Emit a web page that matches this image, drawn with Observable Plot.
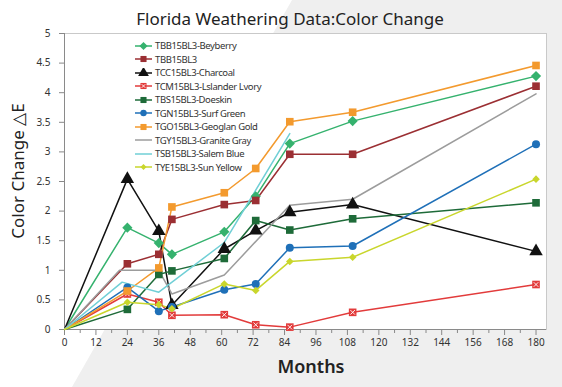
<!DOCTYPE html>
<html>
<head>
<meta charset="utf-8">
<script src="https://cdn.jsdelivr.net/npm/d3@7"></script>
<script src="https://cdn.jsdelivr.net/npm/@observablehq/plot@0.6"></script>
<style>
  html, body { margin: 0; padding: 0; background: #fff; }
  #wrap { position: relative; width: 562px; height: 387px; overflow: hidden; background: #fff; font-family: "Noto Sans", sans-serif; }
  #bgshade { position: absolute; inset: 0; background: #efefef; clip-path: polygon(292px 0, 562px 0, 562px 387px, 72px 387px); }
  #chart { position: absolute; left: 0; top: 0; }
  .title { position: absolute; left: 0; top: 9px; width: 580px; text-align: center; font-size: 17px; color: #222; line-height: 20px; }
  .ylab { position: absolute; left: 17px; top: 171px; transform: translate(-50%, -50%) rotate(-90deg); font-size: 17px; color: #222; white-space: nowrap; }
  .xlab { position: absolute; left: 311px; top: 366px; transform: translate(-50%, -50%); font-size: 18px; font-weight: 600; color: #222; white-space: nowrap; }
  #legend { position: absolute; left: 133px; top: 39px; }
  .row { display: flex; align-items: center; height: 13.5px; }
  .row svg { display: block; margin-right: 2px; }
  .row span { font-size: 9.5px; letter-spacing: -0.4px; color: #333; white-space: nowrap; }
</style>
</head>
<body>
<div id="wrap">
  <div id="bgshade"></div>
  <div id="chart"></div>
  <div class="title">Florida Weathering Data:Color Change</div>
  <div class="ylab">Color Change △E</div>
  <div class="xlab">Months</div>
  <div id="legend"></div>
</div>
<script>
// ---- data ----
const seriesNames = [
  "TBB15BL3-Beyberry", "TBB15BL3", "TCC15BL3-Charcoal", "TCM15BL3-Lslander Lvory",
  "TBS15BL3-Doeskin", "TGN15BL3-Surf Green", "TGO15BL3-Geoglan Gold",
  "TGY15BL3-Granite Gray", "TSB15BL3-Salem Blue", "TYE15BL3-Sun Yellow"
];
const months = [0, 24, 36, 41, 61, 73, 86, 110, 180];
const beyberry = [0, 1.72, 1.46, 1.27, 1.65, 2.25, 3.14, 3.52, 4.28];
const tbb      = [0, 1.11, 1.27, 1.86, 2.11, 2.18, 2.96, 2.96, 4.11];
const charcoal = [0, 2.54, 1.66, 0.41, 1.36, 1.67, 1.98, 2.11, 1.32];
const ivory    = [0, 0.60, 0.46, 0.24, 0.25, 0.08, 0.04, 0.29, 0.76];
const doeskin  = [0, 0.34, 0.93, 0.99, 1.20, 1.84, 1.68, 1.87, 2.14];
const surf     = [0, 0.71, 0.31, 0.38, 0.67, 0.77, 1.38, 1.41, 3.13];
const gold     = [0, 0.65, 1.04, 2.07, 2.31, 2.72, 3.51, 3.67, 4.46];
const yellow   = [0, 0.46, 0.42, 0.35, 0.77, 0.66, 1.15, 1.22, 2.54];
const grayMonths = [0, 21, 36, 41, 61, 86, 110, 180];
const gray       = [0, 1.00, 1.00, 0.60, 0.92, 2.10, 2.20, 3.98];
const salemMonths = [0, 22, 36, 61, 86];
const salem       = [0, 0.80, 0.63, 1.47, 3.31];
const xTicks = [0, 12, 24, 36, 48, 60, 72, 84, 96, 108, 120, 132, 144, 156, 168, 180];
const yTicks = [0, 0.5, 1, 1.5, 2, 2.5, 3, 3.5, 4, 4.5, 5];

// ---- styles ----
const styles = [
  {color: "#35b26e", symbol: "diamond2", r: 4.6},
  {color: "#9b2f33", symbol: "square", r: 4.3},
  {color: "#111111", symbol: "triangle", r: 5},
  {color: "#e23b3b", symbol: "square", r: 4.3, cross: true},
  {color: "#1e6b39", symbol: "square", r: 4.3},
  {color: "#1f70b8", symbol: "circle", r: 4},
  {color: "#f39a2e", symbol: "square", r: 4.3},
  {color: "#9c9c9c", symbol: null},
  {color: "#70cfd6", symbol: null},
  {color: "#c9d62c", symbol: "diamond2", r: 3.4}
];
const valueSets = [beyberry, tbb, charcoal, ivory, doeskin, surf, gold, gray, salem, yellow];
const monthSets = [months, months, months, months, months, months, months, grayMonths, salemMonths, months];

const series = seriesNames.map((name, i) => ({
  name, ...styles[i],
  rows: monthSets[i].map((m, j) => ({month: m, value: valueSets[i][j]}))
}));

const marks = [
  Plot.frame({fill: "white", stroke: "#c9c9c9"}),
  Plot.axisX({ticks: d3.range(6, 181, 12), tickSize: 4, text: null, stroke: "#888", label: null}),
  Plot.axisX({ticks: xTicks, tickSize: 6, tickPadding: 3, stroke: "#888", fill: "#333", label: null, fontSize: 10}),
  Plot.axisY({ticks: yTicks, tickSize: 5, tickPadding: 9, stroke: "#888", fill: "#333", label: null, fontSize: 10, tickFormat: d => String(d)}),
  Plot.ruleY([0], {stroke: "#8a8a8a"}),
  Plot.ruleX([0], {stroke: "#8a8a8a"})
];
for (const s of series) {
  marks.push(Plot.line(s.rows, {x: "month", y: "value", stroke: s.color, strokeWidth: 1.5}));
}
for (const s of series) {
  if (!s.symbol) continue;
  marks.push(Plot.dot(s.rows.slice(1), {x: "month", y: "value", symbol: s.symbol, r: s.r, fill: s.color, stroke: null}));
  if (s.cross) {
    marks.push(Plot.dot(s.rows.slice(1), {x: "month", y: "value", symbol: "times", r: 2.2, stroke: "white", strokeWidth: 0.9}));
  }
}

const chart = Plot.plot({
  width: 562, height: 387,
  marginTop: 33, marginBottom: 58, marginLeft: 64, marginRight: 16,
  style: {background: "transparent", fontFamily: "Noto Sans", fontSize: "10px", color: "#333"},
  x: {domain: [0, 184], label: null},
  y: {domain: [0, 5], label: null},
  marks
});
document.getElementById("chart").appendChild(chart);

// ---- legend ----
const legend = document.getElementById("legend");
const symbolPath = (sym, r) => {
  const t = {diamond2: d3.symbolDiamond2, square: d3.symbolSquare, triangle: d3.symbolTriangle, circle: d3.symbolCircle, times: d3.symbolTimes}[sym];
  return d3.symbol(t, Math.PI * r * r)();
};
for (const s of series) {
  const row = document.createElement("div");
  row.className = "row";
  let svg = `<svg width="20" height="10"><line x1="2" x2="19" y1="5" y2="5" stroke="${s.color}" stroke-width="1.5"/>`;
  if (s.symbol) {
    svg += `<path transform="translate(10.5,5)" d="${symbolPath(s.symbol, s.r * 0.8)}" fill="${s.color}"/>`;
    if (s.cross) svg += `<path transform="translate(10.5,5)" d="${symbolPath("times", 1.8)}" fill="none" stroke="white" stroke-width="0.9"/>`;
  }
  svg += `</svg>`;
  row.innerHTML = svg + `<span>${s.name}</span>`;
  legend.appendChild(row);
}
</script>
</body>
</html>
